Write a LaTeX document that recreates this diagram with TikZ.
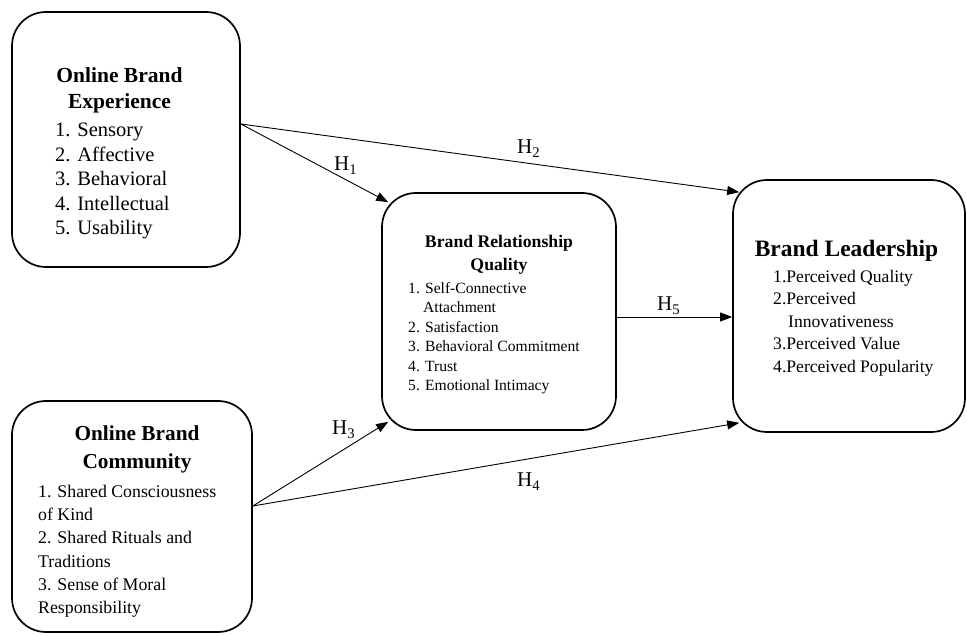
\documentclass[tikz,border=0pt]{standalone}
\usepackage{fontspec}
\setmainfont{Liberation Serif}
\usetikzlibrary{arrows.meta, positioning}

\begin{document}
\begin{tikzpicture}[
    x=1pt, y=1pt,
    box/.style={rectangle, rounded corners=34pt, draw=black, line width=1.7pt, inner sep=0pt},
    head/.style={align=center, inner sep=0pt, anchor=north},
    items/.style={align=left, inner sep=0pt, anchor=north west},
    hyp/.style={inner sep=0pt, anchor=base west, font=\fontsize{21}{21}\selectfont},
    arrow/.style={-{Triangle[length=12pt, width=9pt]}, line width=0.9pt}
]
\useasboundingbox (0,0) rectangle (967,635);

% the four constructs
\node[box, minimum width=228pt, minimum height=255pt] (obe) at (126,495.5) {};
\node[box, minimum width=234pt, minimum height=237pt] (brq) at (499,323.5) {};
\node[box, minimum width=232pt, minimum height=252pt] (bl) at (849,329) {};
\node[box, minimum width=240pt, minimum height=231pt] (obc) at (132,118.5) {};

% texts inside the boxes
\node[head, font=\fontsize{21.5}{26}\selectfont\bfseries] (obeHead) at (119.5,567.7) {Online Brand\\Experience};
\node[items, font=\fontsize{20.5}{24.5}\selectfont] (obeItems) at (55,511.9) {1. Sensory\\2. Affective\\3. Behavioral\\4. Intellectual\\5. Usability};

\node[head, font=\fontsize{17.7}{23}\selectfont\bfseries] (brqHead) at (499,400.1) {Brand Relationship\\Quality};
\node[items, font=\fontsize{15.6}{19.5}\selectfont] (brqItems) at (408,352.7) {1. Self-Connective\\\hspace*{15pt}Attachment\\2. Satisfaction\\3. Behavioral Commitment\\4. Trust\\5. Emotional Intimacy};

\node[inner sep=0pt, anchor=base, font=\fontsize{23.5}{28}\selectfont\bfseries] (blHead) at (846.5,378) {Brand Leadership};
\node[items, font=\fontsize{17.6}{22.5}\selectfont] (blItems) at (773,365) {1.Perceived Quality\\2.Perceived\\\hspace*{15pt}Innovativeness\\3.Perceived Value\\4.Perceived Popularity};

\node[head, font=\fontsize{21.3}{28}\selectfont\bfseries] (obcHead) at (137,209.5) {Online Brand\\Community};
\node[items, font=\fontsize{17.8}{23.3}\selectfont] (obcItems) at (38,150.2) {1. Shared Consciousness\\of Kind\\2. Shared Rituals and\\Traditions\\3. Sense of Moral\\Responsibility};

% paths between constructs
\coordinate (obeOut) at ([yshift=15.5pt]obe.east);
\coordinate (obcOut) at ([yshift=10.5pt]obc.east);

\draw[arrow] (obeOut) -- ([shift={(7pt,-10pt)}]brq.north west);
\draw[arrow] (obeOut) -- ([shift={(7pt,-13pt)}]bl.north west);
\draw[arrow] ([yshift=-5.5pt]brq.east) -- ([yshift=-5.5pt]brq.east -| bl.west);
\draw[arrow] (obcOut) -- ([shift={(7pt,9pt)}]brq.south west);
\draw[arrow] (obcOut) -- ([shift={(7pt,10pt)}]bl.south west);

% hypothesis labels
\node[hyp] (h1) at (334,464) {H\textsubscript{1}};
\node[hyp] (h2) at (517,481) {H\textsubscript{2}};
\node[hyp] (h3) at (332,200) {H\textsubscript{3}};
\node[hyp] (h4) at (517,148) {H\textsubscript{4}};
\node[hyp] (h5) at (657,324) {H\textsubscript{5}};

\end{tikzpicture}
\end{document}
